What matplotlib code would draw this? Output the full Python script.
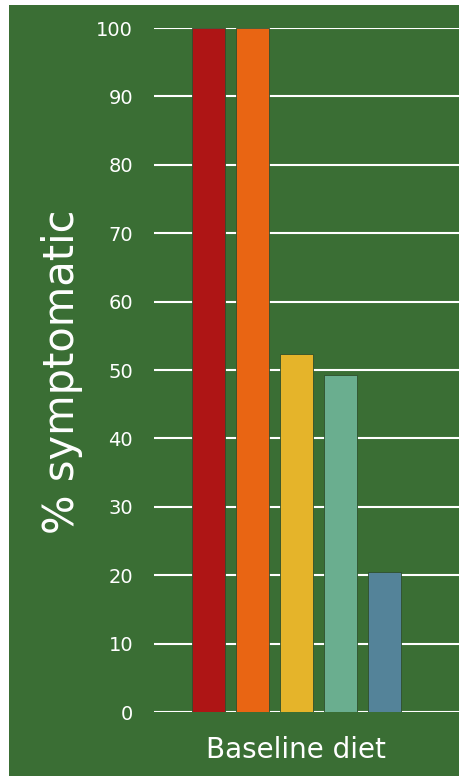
import matplotlib
matplotlib.use("Agg")
import matplotlib.pyplot as plt
from matplotlib.patches import Rectangle

# Share of symptomatic subjects on the baseline diet, one bar per group
groups = ["Group 1", "Group 2", "Group 3", "Group 4", "Group 5"]
pct_symptomatic = [100, 100, 52.3, 49.2, 20.5]
bar_colors = ["#AE1515", "#E96513", "#E5B42A", "#6AAE8F", "#548399"]
y_ticks = [0, 10, 20, 30, 40, 50, 60, 70, 80, 90, 100]
category_label = "Baseline diet"

BG = "#3A6E34"
W, H = 459, 776
fig = plt.figure(figsize=(W / 100, H / 100), dpi=100)
fig.patch.set_facecolor("white")
# green panel behind the chart
fig.add_artist(Rectangle((9 / W, 0), 1 - 9 / W, 1 - 5 / H,
                         transform=fig.transFigure, facecolor=BG,
                         edgecolor="none", zorder=0))

left, right, top, bottom = 154, 459, 28, 712
ax = fig.add_axes([left / W, 1 - bottom / H, (right - left) / W, (bottom - top) / H])
ax.set_facecolor("none")

font = ["DejaVu Sans"]
x = list(range(len(groups)))
ax.bar(x, pct_symptomatic, width=0.77, color=bar_colors,
       edgecolor="#2f4f2c", linewidth=0.6, zorder=3)

ax.set_ylim(0, 100)
ax.set_xlim(2 - 142.5 / 44, 2 + 162.5 / 44)
ax.set_yticks(y_ticks)
ax.set_yticklabels([str(t) for t in y_ticks], family=font, fontsize=14,
                   color="white")
ax.tick_params(axis="y", length=0, pad=15)
ax.set_xticks([])
ax.grid(axis="y", color="white", linewidth=1.5, zorder=1)
for s in ax.spines.values():
    s.set_visible(False)

fig.text(62 / W, 1 - 372 / H, "% symptomatic", rotation=90, ha="center",
         va="center", color="white", fontsize=30, family=font)
fig.text(296 / W, 1 - 750 / H, category_label, ha="center", va="center",
         color="white", fontsize=20, family=font)

fig.savefig("out.png", dpi=100)
